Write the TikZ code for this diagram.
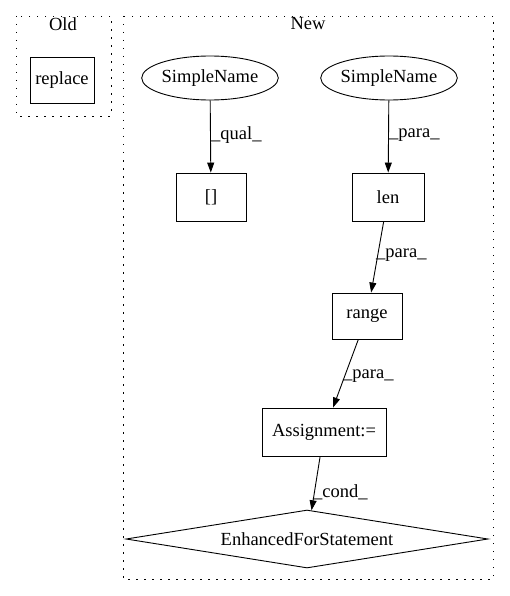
\documentclass[tikz,border=0pt]{standalone}
\usepackage{fontspec}
\setmainfont{Liberation Serif}
\usetikzlibrary{arrows.meta,shapes.geometric}

\tikzset{
  box/.style={draw, rectangle, line width=0.9pt, inner sep=0pt},
  oval/.style={draw, ellipse, line width=0.9pt, minimum width=116pt, minimum height=44pt, inner sep=0pt},
  cluster/.style={line width=0.9pt, dash pattern=on 1.5pt off 6.5pt},
  edge/.style={line width=0.9pt, -{Triangle[length=10pt,width=7pt]}},
  elabel/.style={anchor=west, inner sep=0pt},
}

\begin{document}
\begin{tikzpicture}[x=1pt, y=-1pt, font=\fontsize{18.5}{21}\selectfont]
        \useasboundingbox (0,0) rectangle (509,596);

        % Draw the clusters
        \draw[cluster] (16,16) rectangle (111,116);
        \node (oldlabel) at (63,24) {Old};
        \draw[cluster] (123,16) rectangle (493,579);
        \node (newlabel) at (308,24) {New};

        % Old part
        \node[box, minimum width=64pt, minimum height=46pt] (replace) at (62,80) {replace};

        % New part
        \node[oval] (sname1) at (210,78) {SimpleName};
        \node[oval] (sname2) at (389,78) {SimpleName};
        \node[box, minimum width=70pt, minimum height=48pt] (index) at (211,197) {[]};
        \node[box, minimum width=72pt, minimum height=48pt] (len) at (388,197) {len};
        \node[box, minimum width=70pt, minimum height=46pt] (range) at (367,316) {range};
        \node[box, minimum width=124pt, minimum height=48pt] (assign) at (324,432) {Assignment:=};
        \node[draw, diamond, line width=0.9pt, inner sep=0pt, shape aspect=6.24, minimum width=362pt, minimum height=58pt] (efs) at (307,539) {EnhancedForStatement};

        % Draw the edges
        \draw[edge] (sname1) -- (index);
        \node[elabel] (l1) at (211,135) {\_qual\_};
        \draw[edge] (sname2) -- (len);
        \node[elabel] (l2) at (389,135) {\_para\_};
        \draw[edge] (len) -- (range);
        \node[elabel] (l3) at (376,255) {\_para\_};
        \draw[edge] (range) -- (assign);
        \node[elabel] (l4) at (343,376) {\_para\_};
        \draw[edge] (assign) -- (efs);
        \node[elabel] (l5) at (313,492) {\_cond\_};
    \end{tikzpicture}
\end{document}
